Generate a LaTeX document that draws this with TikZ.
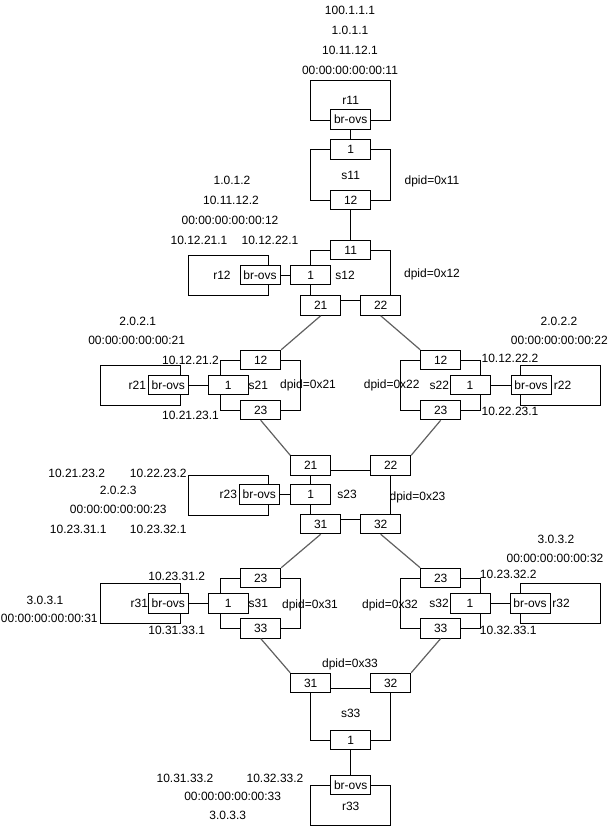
\documentclass[tikz,border=0pt]{standalone}
\usepackage{fontspec}
\setmainfont{Liberation Sans}
\definecolor{linkgray}{RGB}{96,96,96}
\newcommand{\lblfont}{\fontsize{12pt}{14pt}\selectfont}
\begin{document}
\begin{tikzpicture}[x=1pt,y=-1pt,
  port/.style={draw, fill=white, line width=1pt, minimum width=40pt, minimum height=19.5pt, inner sep=0pt, font=\lblfont},
  frm/.style={draw, line width=1pt, minimum width=80pt, inner sep=0pt},
  lbl/.style={inner sep=0pt, font=\lblfont},
  wire/.style={line width=1pt},
  link/.style={line width=1.2pt, draw=linkgray}]
\useasboundingbox (0,0) rectangle (610,827);

% frames
\node[frm, minimum height=40pt] (fr11) at (350.7,100) {};
\node[frm, minimum height=50.7pt] (fs11) at (350.7,174.65) {};
\node[frm, minimum height=50pt] (fs12) at (350.7,275) {};
\node[frm, minimum height=40pt] (fr12) at (228.3,275) {};
\node[frm, minimum height=50pt] (fs21) at (260.7,385) {};
\node[frm, minimum height=40pt] (fr21) at (140.7,385) {};
\node[frm, minimum height=50pt] (fs22) at (440.7,385) {};
\node[frm, minimum height=40pt] (fr22) at (560,385) {};
\node[frm, minimum height=49.3pt] (fs23) at (350.7,494.65) {};
\node[frm, minimum height=40pt] (fr23) at (228.3,495) {};
\node[frm, minimum height=50pt] (fs31) at (260.7,603.3) {};
\node[frm, minimum height=40pt] (fr31) at (140,603.3) {};
\node[frm, minimum height=50pt] (fs32) at (440.7,603.3) {};
\node[frm, minimum height=40pt] (fr32) at (560,603.3) {};
\node[frm, minimum height=51.7pt] (fs33) at (350.7,714.15) {};
\node[frm, minimum height=40pt] (fr33) at (350.7,805.5) {};

% ports
\node[port] (pr11) at (350.7,119.5) {br-ovs};
\node[port] (ps11a) at (350.7,149.3) {1};
\node[port] (ps11b) at (350.7,200) {12};
\node[port] (ps12a) at (350.7,250) {11};
\node[port] (ps12b) at (310.7,275) {1};
\node[port] (ps12c) at (320.7,305.5) {21};
\node[port] (ps12d) at (380.7,305.5) {22};
\node[port] (pr12) at (260,275) {br-ovs};
\node[port] (ps21a) at (260.7,360) {12};
\node[port] (ps21b) at (228.3,385) {1};
\node[port] (ps21c) at (260.7,410) {23};
\node[port] (pr21) at (168.3,385) {br-ovs};
\node[port] (ps22a) at (440.7,360) {12};
\node[port] (ps22b) at (470,385) {1};
\node[port] (ps22c) at (440.7,410) {23};
\node[port] (pr22) at (531,385) {br-ovs};
\node[port] (ps23a) at (310.7,465.5) {21};
\node[port] (ps23b) at (390.7,465.5) {22};
\node[port] (ps23c) at (310.7,494.7) {1};
\node[port] (ps23d) at (320.7,524) {31};
\node[port] (ps23e) at (380.7,524) {32};
\node[port] (pr23) at (259.3,494.7) {br-ovs};
\node[port] (ps31a) at (260.7,578) {23};
\node[port] (ps31b) at (228.3,603.3) {1};
\node[port] (ps31c) at (260.7,628.3) {33};
\node[port] (pr31) at (168.3,603.3) {br-ovs};
\node[port] (ps32a) at (440.7,578) {23};
\node[port] (ps32b) at (470,603.3) {1};
\node[port] (ps32c) at (440.7,628.3) {33};
\node[port] (pr32) at (530,603.3) {br-ovs};
\node[port] (ps33a) at (310.7,683) {31};
\node[port] (ps33b) at (390.7,683) {32};
\node[port] (ps33c) at (350.7,740) {1};
\node[port] (pr33) at (350.7,785) {br-ovs};

% wires
\draw[wire] (pr11.south) -- (ps11a.north);
\draw[wire] (ps11b.south) -- (ps12a.north);
\draw[wire] (pr12.east) -- (ps12b.west);
\draw[wire] (pr21.east) -- (ps21b.west);
\draw[wire] (pr22.west) -- (ps22b.east);
\draw[wire] (pr23.east) -- (ps23c.west);
\draw[wire] (pr31.east) -- (ps31b.west);
\draw[wire] (pr32.west) -- (ps32b.east);
\draw[wire] (ps33c.south) -- (pr33.north);

% links
\draw[link] (ps12c.south) -- (ps21a.north east);
\draw[link] (ps12d.south) -- (ps22a.north west);
\draw[link] (ps21c.south) -- (ps23a.north west);
\draw[link] (ps22c.south) -- (ps23b.north east);
\draw[link] (ps23d.south) -- (ps31a.north east);
\draw[link] (ps23e.south) -- (ps32a.north west);
\draw[link] (ps31c.south) -- (ps33a.north west);
\draw[link] (ps32c.south) -- (ps33b.north east);

% names
\node[lbl] (lr11) at (350.7,100) {r11};
\node[lbl] (ls11) at (350.7,175) {s11};
\node[lbl] (lr12) at (222,275) {r12};
\node[lbl] (ls12) at (345,275) {s12};
\node[lbl] (lr21) at (137.3,385) {r21};
\node[lbl] (ls21) at (258.3,385) {s21};
\node[lbl] (lr22) at (562.5,385) {r22};
\node[lbl] (ls22) at (439.3,385) {s22};
\node[lbl] (lr23) at (228.3,494.7) {r23};
\node[lbl] (ls23) at (347,494.7) {s23};
\node[lbl] (lr31) at (139.3,603.3) {r31};
\node[lbl] (ls31) at (258.3,603.3) {s31};
\node[lbl] (lr32) at (561,603.3) {r32};
\node[lbl] (ls32) at (439,603.3) {s32};
\node[lbl] (ls33) at (350.7,713.3) {s33};
\node[lbl] (lr33) at (350.7,806.7) {r33};

% dpid
\node[lbl] (d11) at (432,181) {dpid=0x11};
\node[lbl] (d12) at (432,274) {dpid=0x12};
\node[lbl] (d21) at (308,385) {dpid=0x21};
\node[lbl] (d22) at (391.7,385) {dpid=0x22};
\node[lbl] (d23) at (417.5,497) {dpid=0x23};
\node[lbl] (d31) at (310,605) {dpid=0x31};
\node[lbl] (d32) at (390,605) {dpid=0x32};
\node[lbl] (d33) at (350,664) {dpid=0x33};

% addresses
\node[lbl] (a1) at (350,10) {100.1.1.1};
\node[lbl] (a2) at (350,30) {1.0.1.1};
\node[lbl] (a3) at (350,50) {10.11.12.1};
\node[lbl] (a4) at (350,70) {00:00:00:00:00:11};
\node[lbl] (b1) at (232,180) {1.0.1.2};
\node[lbl] (b2) at (231,200) {10.11.12.2};
\node[lbl] (b3) at (230,220) {00:00:00:00:00:12};
\node[lbl] (b4) at (199,240) {10.12.21.1};
\node[lbl] (b5) at (270,240) {10.12.22.1};
\node[lbl] (c1) at (137.7,321) {2.0.2.1};
\node[lbl] (c2) at (136.7,340) {00:00:00:00:00:21};
\node[lbl] (c3) at (190.5,360) {10.12.21.2};
\node[lbl] (c4) at (190.5,415) {10.21.23.1};
\node[lbl] (e1) at (559,321) {2.0.2.2};
\node[lbl] (e2) at (559.3,340) {00:00:00:00:00:22};
\node[lbl] (e3) at (510,358.3) {10.12.22.2};
\node[lbl] (e4) at (510,411.7) {10.22.23.1};
\node[lbl] (g1) at (76.7,473.3) {10.21.23.2};
\node[lbl] (g2) at (158.3,473.3) {10.22.23.2};
\node[lbl] (g3) at (118.3,490) {2.0.2.3};
\node[lbl] (g4) at (118.3,509.3) {00:00:00:00:00:23};
\node[lbl] (g5) at (78.3,529.3) {10.23.31.1};
\node[lbl] (g6) at (158.3,529.3) {10.23.32.1};
\node[lbl] (h1) at (176.7,576) {10.23.31.2};
\node[lbl] (h2) at (176.7,630) {10.31.33.1};
\node[lbl] (h3) at (45,600) {3.0.3.1};
\node[lbl] (h4) at (49.3,618.3) {00:00:00:00:00:31};
\node[lbl] (k1) at (508.3,574) {10.23.32.2};
\node[lbl] (k2) at (508.3,630) {10.32.33.1};
\node[lbl] (k3) at (556,539) {3.0.3.2};
\node[lbl] (k4) at (555,558.3) {00:00:00:00:00:32};
\node[lbl] (m1) at (185,778.3) {10.31.33.2};
\node[lbl] (m2) at (275,778.3) {10.32.33.2};
\node[lbl] (m3) at (232.7,796) {00:00:00:00:00:33};
\node[lbl] (m4) at (227.7,815) {3.0.3.3};
\end{tikzpicture}
\end{document}
